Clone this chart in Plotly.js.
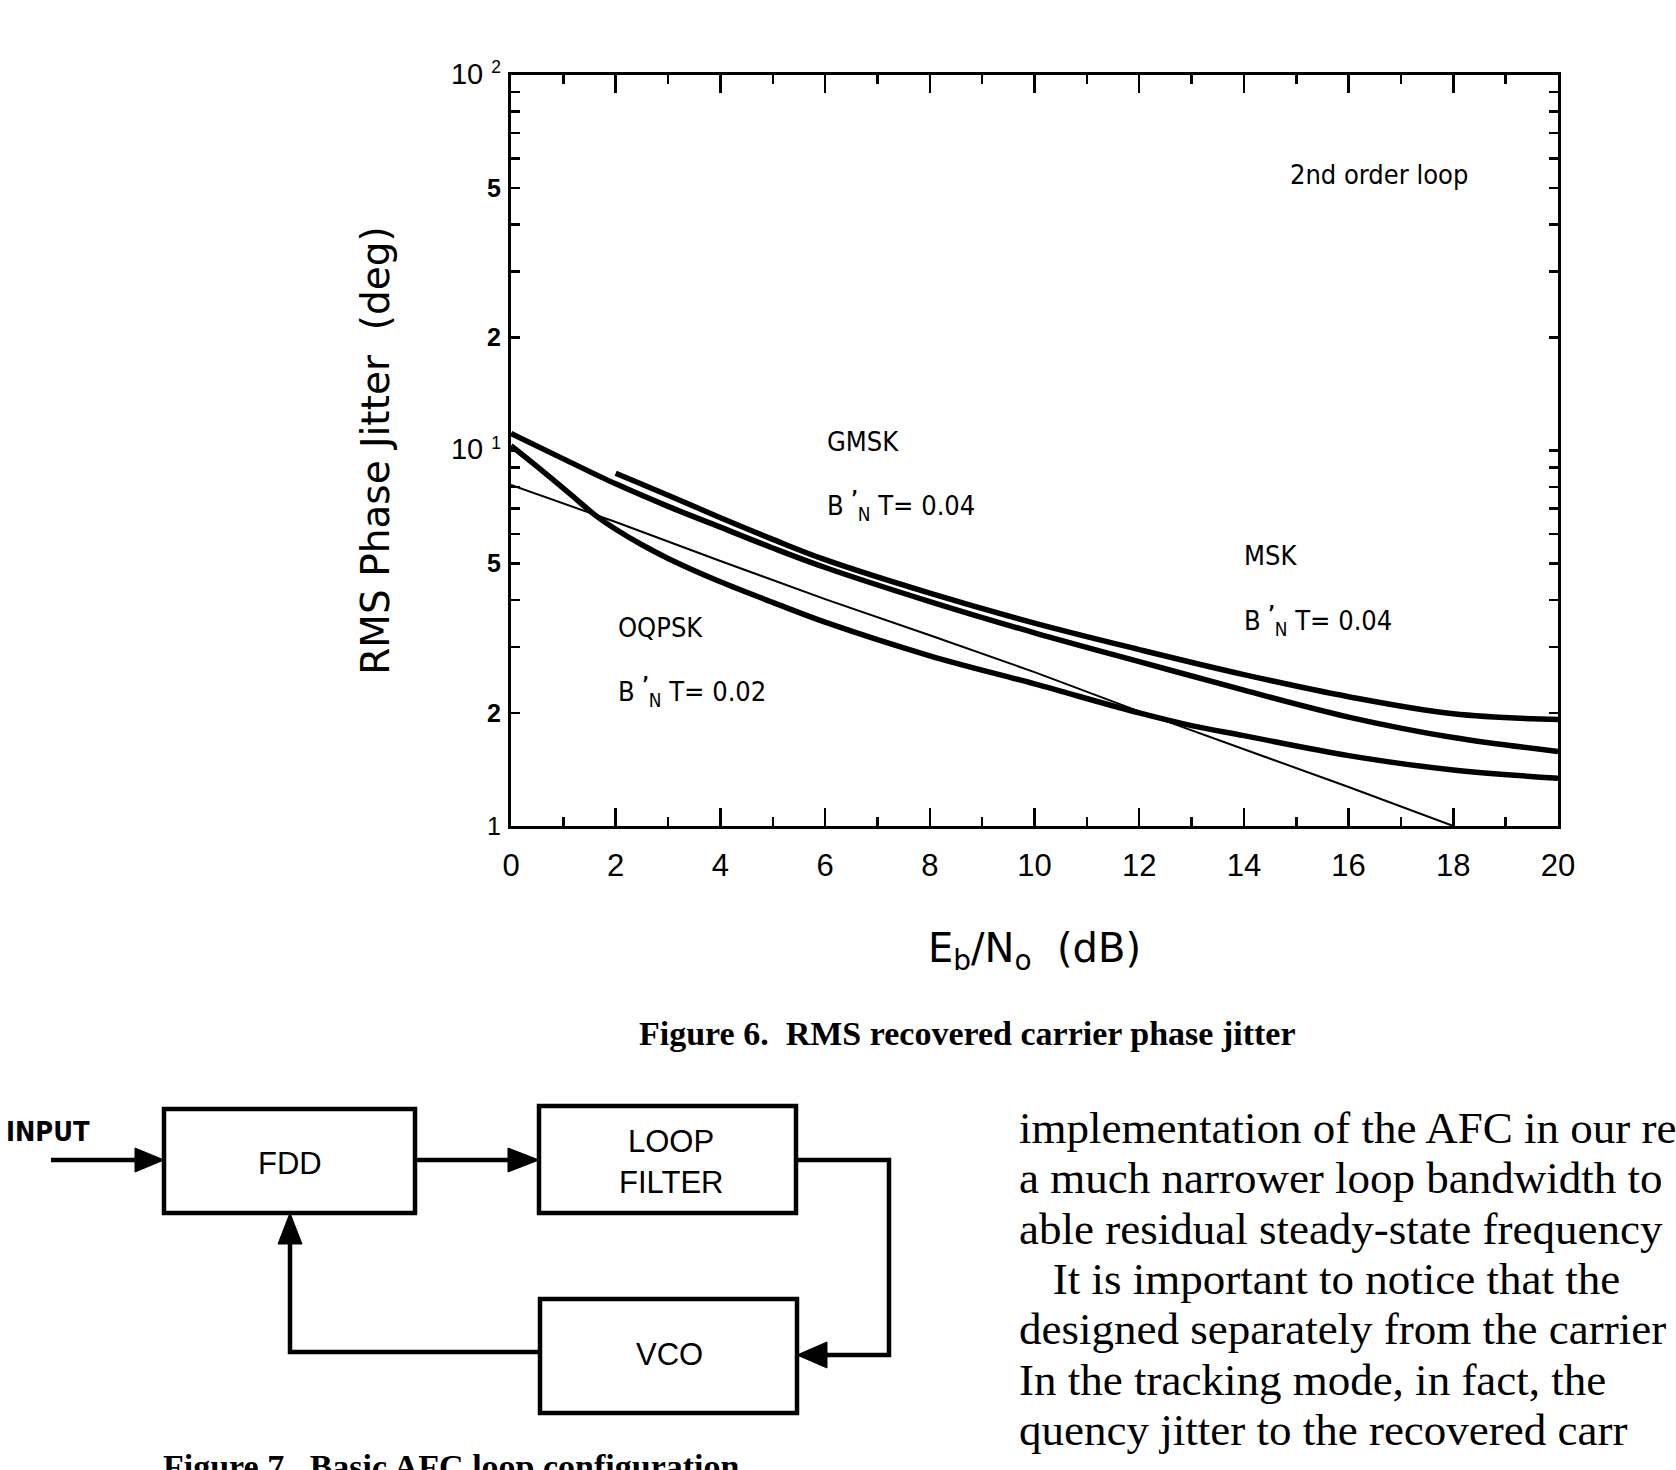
<!DOCTYPE html>
<html>
<head>
<meta charset="utf-8">
<script src="https://cdn.plot.ly/plotly-3.0.1.min.js"></script>
<style>html,body{margin:0;padding:0;background:#fff;overflow:hidden}</style>
</head>
<body>
<div id="chart" style="width:1676px;height:1470px"></div>
<script>
// ---- data ----
const curveA_x = [2, 3, 4, 5, 6, 8, 10, 12, 14, 16, 18, 20];
const curveA_y = [8.7, 7.6, 6.62, 5.8, 5.12, 4.17, 3.47, 2.95, 2.53, 2.21, 1.99, 1.92];

const curveB_x = [0, 1, 2, 3, 4, 5, 6, 8, 10, 12, 14, 16, 18, 20];
const curveB_y = [11.1, 9.5, 8.15, 7.1, 6.25, 5.5, 4.88, 3.96, 3.27, 2.74, 2.3, 1.95, 1.72, 1.58];

const curveC_x = [0, 0.5, 1.15, 1.6, 2, 2.5, 3, 4, 5, 6, 8, 10, 12, 13, 14, 16, 18, 20];
const curveC_y = [10.3, 9.06, 7.62, 6.74, 6.17, 5.61, 5.16, 4.47, 3.94, 3.49, 2.84, 2.39, 2.0, 1.85, 1.74, 1.54, 1.41, 1.34];

const lineD_x = [0, 2, 4, 6, 8, 10, 12, 14, 16, 18];
const lineD_y = [8.1, 6.45, 5.08, 4.02, 3.22, 2.57, 2.02, 1.6, 1.27, 1.0];

const yTickVals = [1, 2, 5, 10, 20, 50, 100];
const yTickText = ['1', '<b>2</b>', '<b>5</b>', '<span style="font-size:29px">10 </span><sup>1</sup>',
                   '<b>2</b>', '<b>5</b>', '<span style="font-size:29px">10 </span><sup>2</sup>'];
const yMinorVals = [3, 4, 6, 7, 8, 9, 30, 40, 60, 70, 80, 90];

const captionFig6 = 'Figure 6.  RMS recovered carrier phase jitter';
const captionFig7 = 'Figure 7.  Basic AFC loop configuration';
const bodyLines = [
  'implementation of the AFC in our re',
  'a much narrower loop bandwidth to',
  'able residual steady-state frequency',
  '   It is important to notice that the',
  'designed separately from the carrier',
  'In the tracking mode, in fact, the',
  'quency jitter to the recovered carr'
];

// ---- layout geometry (pixels) ----
const W = 1676, H = 1470, ML = 511, MR = 118, MT = 75, MB = 644;
const PW = W - ML - MR, PH = H - MT - MB;
const px = p => (p - ML) / PW;
const py = p => 1 - (p - MT) / PH;

const NARROW = '"Liberation Sans Narrow", "Arial Narrow", "DejaVu Sans Condensed", "Liberation Sans", sans-serif';
const SANS = '"Liberation Sans", Arial, sans-serif';
const THIN = '"DejaVu Sans", sans-serif';
const SERIF = '"Liberation Serif", "Times New Roman", serif';

const thick = {color: 'black', width: 5.5, shape: 'spline', smoothing: 1};
const traces = [
  {x: curveA_x, y: curveA_y, mode: 'lines', name: 'curve A', line: thick, hoverinfo: 'x+y'},
  {x: curveB_x, y: curveB_y, mode: 'lines', name: 'curve B', line: thick, hoverinfo: 'x+y'},
  {x: curveC_x, y: curveC_y, mode: 'lines', name: 'OQPSK', line: thick, hoverinfo: 'x+y'},
  {x: lineD_x, y: lineD_y, mode: 'lines', name: 'thin line', line: {color: 'black', width: 2}, hoverinfo: 'x+y'}
];

const ann = [];
function addText(xp, yp, text, font, xanchor, yanchor, xref, yref) {
  ann.push({x: xp, y: yp, xref: xref || 'paper', yref: yref || 'paper', text: text, showarrow: false,
            xanchor: xanchor || 'left', yanchor: yanchor || 'middle', font: font});
}
const labFont = {family: NARROW, size: 27, color: 'black'};
const bnt = v => 'B <sup><b>\u2019</b></sup><sub>N</sub> T= ' + v;
// in-plot labels (data coordinates)
addText(14.85, Math.log10(54.4), '2nd order loop', labFont, 'left', 'middle', 'x', 'y');
addText(6.0, Math.log10(10.6), 'GMSK', labFont, 'left', 'middle', 'x', 'y');
addText(6.0, Math.log10(7.15), bnt('0.04'), labFont, 'left', 'middle', 'x', 'y');
addText(13.97, Math.log10(5.25), 'MSK', labFont, 'left', 'middle', 'x', 'y');
addText(13.97, Math.log10(3.52), bnt('0.04'), labFont, 'left', 'middle', 'x', 'y');
addText(2.0, Math.log10(3.38), 'OQPSK', labFont, 'left', 'middle', 'x', 'y');
addText(2.0, Math.log10(2.28), bnt('0.02'), labFont, 'left', 'middle', 'x', 'y');

// captions
addText(px(967), py(1033), '<b>' + captionFig6 + '</b>', {family: SERIF, size: 34, color: 'black'}, 'center', 'middle');
addText(px(451), py(1466), '<b>' + captionFig7 + '</b>', {family: SERIF, size: 34, color: 'black'}, 'center', 'middle');

// block diagram texts
addText(px(48), py(1131), '<b>INPUT</b>', {family: NARROW, size: 27, color: 'black'}, 'center', 'middle');
addText(px(290), py(1163), 'FDD', {family: SANS, size: 31, color: 'black'}, 'center', 'middle');
addText(px(671), py(1141), 'LOOP', {family: SANS, size: 31, color: 'black'}, 'center', 'middle');
addText(px(671), py(1182), 'FILTER', {family: SANS, size: 31, color: 'black'}, 'center', 'middle');
addText(px(669), py(1354), 'VCO', {family: SANS, size: 31, color: 'black'}, 'center', 'middle');

// body text
bodyLines.forEach((t, i) => {
  addText(px(1017), py(1128 + 50.3 * i), t, {family: SERIF, size: 45, color: 'black'}, 'left', 'middle');
});

// shapes for the block diagram
const shapes = [];
const LW = 4.5;
function rect(x0, y0, x1, y1) {
  shapes.push({type: 'rect', xref: 'paper', yref: 'paper', x0: px(x0), x1: px(x1), y0: py(y0), y1: py(y1),
               line: {color: 'black', width: LW}, fillcolor: 'rgba(0,0,0,0)'});
}
function poly(pts, closed, fill) {
  let d = pts.map((p, i) => (i ? 'L' : 'M') + px(p[0]).toFixed(5) + ',' + py(p[1]).toFixed(5)).join(' ');
  if (closed) d += ' Z';
  shapes.push({type: 'path', xref: 'paper', yref: 'paper', path: d,
               line: {color: 'black', width: closed ? 1 : LW}, fillcolor: fill ? 'black' : 'rgba(0,0,0,0)'});
}
rect(164, 1109, 415, 1213);
rect(539, 1106, 796, 1213);
rect(540, 1299, 797, 1413);
// input arrow
poly([[51, 1160], [140, 1160]]);
poly([[164, 1160], [135, 1148], [135, 1172]], true, true);
// FDD -> LOOP FILTER
poly([[415, 1160], [515, 1160]]);
poly([[539, 1160], [508, 1148], [508, 1172]], true, true);
// LOOP FILTER -> VCO
poly([[796, 1160], [889, 1160], [889, 1355], [820, 1355]]);
poly([[797, 1355], [827, 1342], [827, 1368]], true, true);
// VCO -> FDD
poly([[540, 1352], [290, 1352], [290, 1238]]);
poly([[290, 1213], [278, 1244], [302, 1244]], true, true);

const axisCommon = {
  showline: true, linewidth: 3, linecolor: 'black', mirror: 'ticks',
  showgrid: false, zeroline: false, ticks: 'inside', tickcolor: 'black', tickwidth: 2.5,
  automargin: false
};

const layout = {
  width: W, height: H,
  margin: {l: ML, r: MR, t: MT, b: MB, pad: 0},
  paper_bgcolor: 'white', plot_bgcolor: 'white',
  showlegend: false,
  xaxis: Object.assign({}, axisCommon, {
    range: [0, 20], tick0: 0, dtick: 2, ticklen: 18,
    minor: {dtick: 1, ticks: 'inside', ticklen: 9, tickwidth: 2.5, tickcolor: 'black', showgrid: false},
    tickfont: {family: SANS, size: 31, color: 'black'},
    ticklabelstandoff: 10,
    title: {text: 'E<sub>b</sub>/N<sub>o</sub>  (dB)', font: {family: THIN, size: 40, color: 'black'}, standoff: 52}
  }),
  yaxis: Object.assign({}, axisCommon, {
    type: 'log', range: [0, 2],
    tickmode: 'array', tickvals: yTickVals, ticktext: yTickText, ticklen: 9,
    minor: {tickmode: 'array', tickvals: yMinorVals, ticks: 'inside', ticklen: 9, tickwidth: 2.5, tickcolor: 'black', showgrid: false},
    tickfont: {family: SANS, size: 25, color: 'black'},
    ticklabelstandoff: 2,
    title: {text: 'RMS Phase Jitter  (deg)', font: {family: THIN, size: 39, color: 'black'}, standoff: 50}
  }),
  yaxis2: {
    type: 'log', range: [0, 2], overlaying: 'y', anchor: 'x', side: 'right',
    tickmode: 'array', tickvals: [10], ticks: 'inside', ticklen: 17, tickwidth: 2.5, tickcolor: 'black',
    showticklabels: false, showline: false, showgrid: false, zeroline: false, automargin: false
  },
  annotations: ann,
  shapes: shapes
};

Plotly.newPlot('chart', traces, layout, {staticPlot: true, displayModeBar: false});
</script>
</body>
</html>
